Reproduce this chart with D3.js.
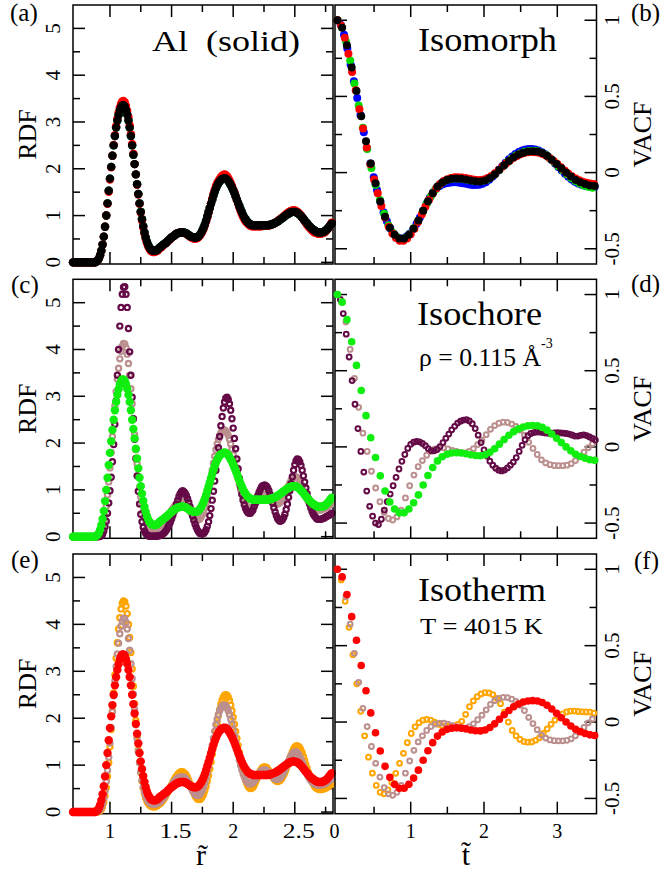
<!DOCTYPE html>
<html>
<head>
<meta charset="utf-8">
<script src="https://cdn.jsdelivr.net/npm/d3@7"></script>
<style>
  body { margin: 0; background: #fff; }
</style>
</head>
<body>
<svg width="660" height="871" font-family="Liberation Serif"></svg>
<script>
// RDF values on a grid r = 0.70 .. 2.80, step 0.01 (211 points)
var rdfRef = [
  0,0,0,0,0,0,0,0,0,0,
  0,0,0,0,0,0,0,0,0,0.02,
  0.04,0.08,0.15,0.25,0.38,0.55,0.76,1.00,1.26,1.53,
  1.79,2.04,2.28,2.50,2.70,2.88,3.03,3.15,3.25,3.32,
  3.36,3.36,3.33,3.26,3.16,3.03,2.88,2.70,2.50,2.30,
  2.10,1.88,1.67,1.46,1.26,1.08,0.92,0.77,0.64,0.53,
  0.44,0.37,0.32,0.28,0.26,0.25,0.25,0.25,0.26,0.28,
  0.31,0.33,0.35,0.37,0.39,0.41,0.43,0.46,0.48,0.51,
  0.53,0.55,0.57,0.59,0.61,0.62,0.63,0.64,0.64,0.64,
  0.64,0.63,0.62,0.60,0.58,0.56,0.55,0.54,0.53,0.53,
  0.53,0.54,0.56,0.59,0.63,0.68,0.74,0.81,0.89,0.98,
  1.07,1.16,1.25,1.34,1.43,1.51,1.58,1.64,1.69,1.73,
  1.76,1.78,1.79,1.80,1.79,1.77,1.74,1.70,1.65,1.60,
  1.54,1.48,1.41,1.34,1.27,1.20,1.13,1.07,1.01,0.96,
  0.92,0.88,0.85,0.83,0.81,0.80,0.79,0.79,0.79,0.79,
  0.79,0.79,0.79,0.79,0.79,0.79,0.79,0.79,0.79,0.80,
  0.80,0.81,0.82,0.83,0.84,0.86,0.87,0.89,0.91,0.93,
  0.95,0.97,0.99,1.01,1.03,1.04,1.06,1.07,1.08,1.08,
  1.08,1.07,1.06,1.04,1.02,0.99,0.96,0.93,0.89,0.86,
  0.83,0.80,0.77,0.74,0.72,0.70,0.68,0.66,0.65,0.64,
  0.64,0.64,0.64,0.65,0.66,0.68,0.70,0.73,0.76,0.80,
  0.83
];
var rdfIsoRed = [
  0,0,0,0,0,0,0,0,0,0,
  0,0,0,0,0,0,0,0,0,0.02,
  0.04,0.08,0.15,0.25,0.38,0.55,0.76,1.00,1.25,1.51,
  1.77,2.03,2.28,2.51,2.72,2.91,3.07,3.20,3.31,3.39,
  3.44,3.45,3.42,3.35,3.24,3.10,2.93,2.74,2.53,2.32,
  2.10,1.88,1.66,1.45,1.25,1.06,0.89,0.74,0.61,0.50,
  0.41,0.34,0.29,0.25,0.23,0.22,0.22,0.23,0.24,0.26,
  0.29,0.31,0.33,0.36,0.38,0.40,0.43,0.45,0.48,0.50,
  0.53,0.55,0.57,0.59,0.61,0.62,0.63,0.64,0.64,0.64,
  0.63,0.62,0.61,0.59,0.57,0.55,0.53,0.52,0.51,0.51,
  0.51,0.52,0.54,0.57,0.61,0.66,0.72,0.79,0.87,0.96,
  1.06,1.16,1.26,1.36,1.46,1.55,1.63,1.69,1.74,1.78,
  1.82,1.85,1.87,1.88,1.87,1.84,1.80,1.75,1.69,1.63,
  1.56,1.49,1.41,1.33,1.25,1.17,1.10,1.03,0.97,0.92,
  0.88,0.85,0.82,0.80,0.78,0.77,0.77,0.77,0.77,0.77,
  0.77,0.77,0.77,0.77,0.78,0.78,0.78,0.78,0.78,0.79,
  0.80,0.81,0.82,0.83,0.84,0.86,0.88,0.90,0.92,0.94,
  0.96,0.98,1.01,1.03,1.05,1.07,1.09,1.10,1.11,1.11,
  1.11,1.10,1.08,1.06,1.03,1.00,0.96,0.92,0.88,0.84,
  0.80,0.77,0.74,0.71,0.68,0.66,0.64,0.63,0.62,0.61,
  0.61,0.61,0.62,0.63,0.64,0.66,0.69,0.72,0.76,0.80,
  0.85
];
// blue and green isomorph RDFs cannot be told apart from the black one
var rdfIsoBlue = rdfRef, rdfIsoGreen = rdfRef;

var rdfMaroon = [
  0,0,0,0,0,0,0,0,0,0,
  0,0,0,0,0,0,0,0,0,0,
  0,0,0.01,0.02,0.05,0.12,0.21,0.33,0.50,0.72,
  0.98,1.27,1.60,1.97,2.40,2.90,3.45,4.00,4.50,4.90,
  5.18,5.33,5.34,5.18,4.90,4.45,3.95,3.45,2.98,2.52,
  2.08,1.67,1.30,0.97,0.70,0.48,0.32,0.20,0.12,0.07,
  0.04,0.02,0.01,0.01,0.01,0.01,0.01,0.01,0.01,0.02,
  0.02,0.03,0.04,0.06,0.08,0.11,0.15,0.20,0.25,0.31,
  0.38,0.45,0.53,0.61,0.70,0.78,0.86,0.92,0.96,0.98,
  0.96,0.93,0.88,0.81,0.73,0.64,0.54,0.44,0.35,0.27,
  0.20,0.14,0.10,0.07,0.06,0.06,0.07,0.10,0.15,0.22,
  0.32,0.45,0.60,0.78,0.97,1.19,1.42,1.66,1.90,2.14,
  2.37,2.57,2.75,2.88,2.96,2.98,2.93,2.84,2.70,2.52,
  2.32,2.10,1.88,1.66,1.45,1.25,1.07,0.91,0.78,0.68,
  0.60,0.55,0.51,0.50,0.50,0.53,0.57,0.64,0.72,0.80,
  0.88,0.95,1.01,1.06,1.09,1.10,1.10,1.08,1.04,0.98,
  0.90,0.81,0.72,0.62,0.53,0.45,0.39,0.35,0.33,0.34,
  0.36,0.41,0.48,0.58,0.70,0.84,0.98,1.13,1.28,1.42,
  1.54,1.62,1.66,1.65,1.60,1.52,1.42,1.30,1.17,1.04,
  0.92,0.81,0.70,0.61,0.54,0.48,0.44,0.41,0.38,0.37,
  0.37,0.37,0.38,0.39,0.40,0.42,0.43,0.45,0.46,0.48,
  0.50
];
var rdfBrown = [
  0,0,0,0,0,0,0,0,0,0,
  0,0,0,0,0,0,0,0,0,0,
  0.01,0.03,0.06,0.11,0.19,0.30,0.45,0.65,0.89,1.17,
  1.47,1.80,2.14,2.48,2.80,3.10,3.37,3.60,3.80,3.96,
  4.07,4.13,4.12,4.04,3.90,3.70,3.45,3.16,2.84,2.51,
  2.18,1.86,1.56,1.29,1.05,0.85,0.68,0.54,0.43,0.34,
  0.28,0.23,0.20,0.18,0.17,0.16,0.16,0.17,0.18,0.19,
  0.21,0.23,0.26,0.29,0.32,0.36,0.40,0.44,0.48,0.52,
  0.56,0.60,0.64,0.67,0.70,0.72,0.74,0.75,0.75,0.75,
  0.74,0.72,0.69,0.65,0.61,0.56,0.51,0.46,0.42,0.38,
  0.36,0.35,0.36,0.38,0.42,0.47,0.54,0.62,0.72,0.84,
  0.97,1.11,1.26,1.42,1.57,1.72,1.86,1.98,2.08,2.16,
  2.22,2.26,2.28,2.28,2.26,2.22,2.16,2.08,1.98,1.87,
  1.75,1.62,1.49,1.36,1.23,1.11,1.00,0.90,0.82,0.75,
  0.69,0.65,0.62,0.60,0.60,0.61,0.63,0.66,0.70,0.74,
  0.78,0.82,0.85,0.88,0.89,0.90,0.90,0.89,0.87,0.85,
  0.82,0.79,0.76,0.73,0.71,0.70,0.70,0.71,0.73,0.76,
  0.80,0.85,0.91,0.97,1.03,1.09,1.15,1.20,1.24,1.27,
  1.28,1.28,1.26,1.23,1.18,1.12,1.06,0.99,0.92,0.86,
  0.80,0.75,0.71,0.67,0.64,0.62,0.60,0.59,0.58,0.57,
  0.57,0.57,0.58,0.59,0.60,0.61,0.63,0.65,0.67,0.69,
  0.71
];
var rdfOrange = [
  0,0,0,0,0,0,0,0,0,0,
  0,0,0,0,0,0,0,0,0,0,
  0,0.01,0.03,0.06,0.12,0.21,0.34,0.52,0.76,1.05,
  1.39,1.76,2.15,2.54,2.92,3.28,3.61,3.90,4.14,4.33,
  4.45,4.50,4.48,4.39,4.23,4.00,3.72,3.40,3.05,2.68,
  2.31,1.95,1.62,1.32,1.06,0.84,0.66,0.51,0.39,0.30,
  0.23,0.18,0.15,0.13,0.12,0.11,0.11,0.12,0.13,0.15,
  0.17,0.19,0.22,0.25,0.29,0.33,0.38,0.43,0.48,0.53,
  0.58,0.63,0.68,0.73,0.77,0.80,0.83,0.85,0.86,0.86,
  0.84,0.82,0.78,0.73,0.67,0.60,0.54,0.47,0.41,0.35,
  0.31,0.28,0.27,0.27,0.29,0.33,0.38,0.46,0.55,0.66,
  0.78,0.92,1.07,1.23,1.40,1.57,1.74,1.90,2.05,2.18,
  2.30,2.39,2.45,2.49,2.50,2.49,2.45,2.38,2.28,2.16,
  2.02,1.87,1.72,1.57,1.42,1.27,1.13,1.00,0.88,0.77,
  0.68,0.61,0.55,0.52,0.50,0.51,0.53,0.57,0.63,0.69,
  0.76,0.82,0.88,0.92,0.95,0.96,0.96,0.95,0.92,0.88,
  0.84,0.79,0.75,0.71,0.68,0.66,0.65,0.66,0.67,0.70,
  0.74,0.79,0.85,0.92,0.99,1.07,1.14,1.21,1.28,1.34,
  1.38,1.41,1.41,1.40,1.37,1.32,1.26,1.18,1.10,1.01,
  0.93,0.85,0.78,0.71,0.65,0.60,0.55,0.52,0.50,0.49,
  0.48,0.48,0.48,0.49,0.50,0.51,0.53,0.54,0.56,0.58,
  0.60
];

// VACF values, each series sampled from t = 0 with its own step
var dtRef = 0.065;
var vacfRef = [
  1.000,0.950,0.835,0.690,0.535,0.370,0.205,0.060,-0.070,-0.190,
  -0.290,-0.362,-0.408,-0.433,-0.433,-0.408,-0.367,-0.315,-0.250,-0.188,
  -0.135,-0.092,-0.065,-0.048,-0.040,-0.038,-0.040,-0.045,-0.052,-0.057,
  -0.058,-0.052,-0.036,-0.012,0.018,0.048,0.076,0.100,0.118,0.131,
  0.138,0.140,0.138,0.128,0.110,0.085,0.057,0.028,0.000,-0.026,
  -0.048,-0.063,-0.075,-0.084,-0.088
];
var dtIsoRed = 0.05;
var vacfIsoRed = [
  1.000,0.965,0.885,0.780,0.660,0.540,0.415,0.290,0.165,0.055,
  -0.045,-0.135,-0.220,-0.295,-0.355,-0.400,-0.430,-0.447,-0.448,-0.433,
  -0.405,-0.368,-0.325,-0.275,-0.225,-0.178,-0.137,-0.102,-0.075,-0.055,
  -0.043,-0.035,-0.031,-0.030,-0.032,-0.036,-0.041,-0.046,-0.049,-0.049,
  -0.045,-0.036,-0.022,-0.004,0.017,0.038,0.059,0.078,0.095,0.109,
  0.120,0.128,0.133,0.135,0.134,0.130,0.122,0.110,0.094,0.076,
  0.056,0.035,0.014,-0.006,-0.024,-0.039,-0.051,-0.060,-0.067,-0.072,
  -0.075
];
var dtIsoGreen = 0.058;
var vacfIsoGreen = [
  1.000,0.955,0.860,0.735,0.585,0.440,0.295,0.155,0.030,-0.080,
  -0.180,-0.270,-0.345,-0.395,-0.425,-0.437,-0.430,-0.405,-0.365,-0.318,
  -0.262,-0.205,-0.155,-0.112,-0.080,-0.058,-0.046,-0.040,-0.038,-0.039,
  -0.043,-0.049,-0.054,-0.057,-0.056,-0.049,-0.033,-0.010,0.016,0.043,
  0.069,0.092,0.112,0.126,0.136,0.142,0.144,0.141,0.131,0.115,
  0.094,0.069,0.042,0.015,-0.011,-0.035,-0.055,-0.071,-0.084,-0.093,
  -0.099
];
var dtIsoBlue = 0.045;
var vacfIsoBlue = [
  1.000,0.970,0.905,0.815,0.710,0.600,0.490,0.378,0.265,0.158,
  0.060,-0.030,-0.115,-0.190,-0.260,-0.320,-0.365,-0.400,-0.422,-0.432,
  -0.432,-0.420,-0.400,-0.370,-0.335,-0.295,-0.250,-0.205,-0.165,-0.130,
  -0.105,-0.088,-0.077,-0.070,-0.066,-0.064,-0.064,-0.066,-0.070,-0.074,
  -0.078,-0.081,-0.082,-0.080,-0.074,-0.063,-0.047,-0.027,-0.005,0.018,
  0.042,0.065,0.087,0.106,0.122,0.135,0.145,0.152,0.155,0.155,
  0.152,0.145,0.134,0.120,0.102,0.082,0.060,0.037,0.014,-0.008,
  -0.028,-0.046,-0.060,-0.072,-0.080,-0.086,-0.090,-0.092,-0.093
];
var dtMaroon = 0.04;
var vacfMaroon = [
  1.000,0.968,0.875,0.740,0.590,0.435,0.280,0.120,-0.030,-0.165,
  -0.290,-0.390,-0.455,-0.500,-0.510,-0.475,-0.415,-0.360,-0.310,-0.255,
  -0.200,-0.145,-0.095,-0.050,-0.010,0.017,0.031,0.036,0.033,0.023,
  0.008,-0.012,-0.024,-0.026,-0.017,0.002,0.028,0.056,0.084,0.112,
  0.135,0.156,0.169,0.176,0.178,0.170,0.152,0.120,0.077,0.028,
  -0.020,-0.060,-0.094,-0.120,-0.140,-0.153,-0.158,-0.152,-0.138,-0.120,
  -0.100,-0.070,-0.030,0.010,0.047,0.073,0.088,0.094,0.097,0.097,
  0.094,0.091,0.089,0.090,0.092,0.093,0.092,0.090,0.088,0.084,
  0.078,0.071,0.071,0.076,0.079,0.074,0.065,0.055,0.045
];
var dtBrown = 0.058;
var vacfBrown = [
  1.000,0.950,0.820,0.640,0.450,0.260,0.090,-0.030,-0.160,-0.270,
  -0.360,-0.430,-0.470,-0.480,-0.460,-0.415,-0.335,-0.255,-0.185,-0.130,
  -0.090,-0.055,-0.030,-0.013,-0.007,-0.007,-0.014,-0.023,-0.030,-0.036,
  -0.040,-0.030,-0.012,0.015,0.045,0.080,0.115,0.140,0.155,0.162,
  0.160,0.150,0.135,0.110,0.075,0.030,-0.010,-0.050,-0.085,-0.105,
  -0.117,-0.122,-0.123,-0.123,-0.120,-0.110,-0.090,-0.063,-0.035,-0.005,
  0.020
];
var dtOrange = 0.053;
var vacfOrange = [
  1.000,0.930,0.790,0.620,0.440,0.250,0.070,-0.090,-0.230,-0.335,
  -0.415,-0.460,-0.470,-0.445,-0.395,-0.336,-0.270,-0.205,-0.135,-0.075,
  -0.031,-0.004,0.012,0.017,0.013,0.000,-0.015,-0.024,-0.027,-0.027,
  -0.025,-0.016,0.005,0.050,0.100,0.138,0.166,0.184,0.192,0.190,
  0.180,0.155,0.120,0.065,0.000,-0.055,-0.090,-0.114,-0.128,-0.132,
  -0.130,-0.120,-0.103,-0.075,-0.045,-0.015,0.013,0.035,0.053,0.066,
  0.072,0.072,0.069,0.067,0.066,0.065,0.058
];

var rdfYTicks = [0, 1, 2, 3, 4, 5];
var rdfYMinor = [0.5, 1.5, 2.5, 3.5, 4.5];
var rdfXTicks = [1, 1.5, 2, 2.5];
var rdfXMinor = [1.25, 1.75, 2.25, 2.75];
var vacfYTicks = [-0.5, 0, 0.5, 1];
var vacfYMinor = [-0.25, 0.25, 0.75];
var vacfXTicks = [1, 2, 3];
var vacfXMinor = [0.5, 1.5, 2.5];
var vacfXLabels = [0, 1, 2, 3];

var col = { maroon: "#640a46", rosy: "#bc8f8f", lime: "#10ee10", orange: "#ffa500",
            red: "#ff0000", blue: "#0000ff", green: "#00dd00", black: "#000000" };

var svg = d3.select("svg");
var rows = [[5, 264], [279.3, 538.3], [554, 813.7]];
var MAJ = 12, MIN = 7;

var rGrid = d3.range(rdfRef.length).map(function (i) { return 0.70 + i * 0.01; });
function tGrid(vals, dt) { return vals.map(function (v, i) { return i * dt; }); }

function makePanel(kind, row) {
  var p = { kind: kind };
  if (kind == "rdf") {
    p.x = d3.scaleLinear().domain([0.70, 2.81]).range([73, 333]);
    p.y = d3.scaleLinear().domain([-0.035, 5.5]).range([rows[row][1], rows[row][0]]);
    p.xt = rdfXTicks; p.xm = rdfXMinor; p.yt = rdfYTicks; p.ym = rdfYMinor;
  } else {
    p.x = d3.scaleLinear().domain([-0.033, 3.535]).range([335, 596.5]);
    p.y = d3.scaleLinear().domain([-0.6, 1.1]).range([rows[row][1], rows[row][0]]);
    p.xt = vacfXTicks; p.xm = vacfXMinor; p.yt = vacfYTicks; p.ym = vacfYMinor;
  }
  var g = svg.append("g");
  p.g = g;
  var xa = p.x.range()[0], xb = p.x.range()[1], yb = p.y.range()[0], ya = p.y.range()[1];
  g.append("rect").attr("x", xa).attr("y", ya).attr("width", xb - xa).attr("height", yb - ya)
    .attr("fill", "none").attr("stroke", "#000").attr("stroke-width", 1.5);
  var seg = [];
  function xs(v, L) { seg.push([p.x(v), ya, p.x(v), ya + L], [p.x(v), yb, p.x(v), yb - L]); }
  function ys(v, L) { seg.push([xa, p.y(v), xa + L, p.y(v)], [xb, p.y(v), xb - L, p.y(v)]); }
  p.xt.forEach(function (v) { xs(v, MAJ); });
  p.xm.forEach(function (v) { xs(v, MIN); });
  p.yt.forEach(function (v) { ys(v, MAJ); });
  p.ym.forEach(function (v) { ys(v, MIN); });
  g.selectAll("line").data(seg).join("line")
    .attr("x1", function (d) { return d[0]; }).attr("y1", function (d) { return d[1]; })
    .attr("x2", function (d) { return d[2]; }).attr("y2", function (d) { return d[3]; })
    .attr("stroke", "#000").attr("stroke-width", 1.5);
  return p;
}

function series(p, grid, vals, color, open, r, sw) {
  var pts = vals.map(function (v, i) { return [grid[i], v]; });
  var c = p.g.append("g").selectAll("circle").data(pts).join("circle")
    .attr("cx", function (d) { return p.x(d[0]); })
    .attr("cy", function (d) { return p.y(d[1]); })
    .attr("r", r);
  if (open) c.attr("fill", "none").attr("stroke", color).attr("stroke-width", sw);
  else c.attr("fill", color);
}

// (a) isomorph RDF
var pa = makePanel("rdf", 0);
series(pa, rGrid, rdfIsoBlue, col.blue, false, 4.2);
series(pa, rGrid, rdfIsoGreen, col.green, false, 4.2);
series(pa, rGrid, rdfIsoRed, col.red, false, 4.2);
series(pa, rGrid, rdfRef, col.black, false, 4.2);
// (b) isomorph VACF
var pb = makePanel("vacf", 0);
series(pb, tGrid(vacfIsoBlue, dtIsoBlue), vacfIsoBlue, col.blue, false, 4);
series(pb, tGrid(vacfIsoGreen, dtIsoGreen), vacfIsoGreen, col.green, false, 4);
series(pb, tGrid(vacfIsoRed, dtIsoRed), vacfIsoRed, col.red, false, 4);
series(pb, tGrid(vacfRef, dtRef), vacfRef, col.black, false, 4);
// (c) isochore RDF
var pc = makePanel("rdf", 1);
series(pc, rGrid, rdfBrown, col.rosy, true, 2.6, 2.2);
series(pc, rGrid, rdfMaroon, col.maroon, true, 2.6, 2.2);
series(pc, rGrid, rdfRef, col.lime, false, 4.2);
// (d) isochore VACF
var pd = makePanel("vacf", 1);
series(pd, tGrid(vacfBrown, dtBrown), vacfBrown, col.rosy, true, 2.4, 2);
series(pd, tGrid(vacfMaroon, dtMaroon), vacfMaroon, col.maroon, true, 2.4, 2);
series(pd, tGrid(vacfRef, dtRef), vacfRef, col.lime, false, 3.8);
// (e) isotherm RDF
var pe = makePanel("rdf", 2);
series(pe, rGrid, rdfOrange, col.orange, true, 2.6, 2.2);
series(pe, rGrid, rdfBrown, col.rosy, true, 2.6, 2.2);
series(pe, rGrid, rdfRef, col.red, false, 4.2);
// (f) isotherm VACF
var pf = makePanel("vacf", 2);
series(pf, tGrid(vacfOrange, dtOrange), vacfOrange, col.orange, true, 2.4, 2);
series(pf, tGrid(vacfBrown, dtBrown), vacfBrown, col.rosy, true, 2.4, 2);
series(pf, tGrid(vacfRef, dtRef), vacfRef, col.red, false, 3.8);

// tick labels
function vlabel(x, y, s, size) {
  svg.append("text").attr("transform", "translate(" + x + "," + y + ") rotate(-90)")
    .attr("text-anchor", "middle").attr("dy", "0.35em").attr("font-size", size).text(s);
}
[pa, pc, pe].forEach(function (p) {
  rdfYTicks.forEach(function (v) { vlabel(53, p.y(v), String(v), 21); });
  vlabel(27, (p.y.range()[0] + p.y.range()[1]) / 2, "RDF", 26);
});
[pb, pd, pf].forEach(function (p) {
  vacfYTicks.forEach(function (v) { vlabel(612, p.y(v), String(v), 21); });
  vlabel(642, (p.y.range()[0] + p.y.range()[1]) / 2, "VACF", 26);
});
rdfXTicks.forEach(function (v) {
  var t = svg.append("text").attr("x", pe.x(v) + (v % 1 ? 4 : 0)).attr("y", 838).attr("text-anchor", "middle")
    .attr("font-size", 20).text(String(v));
  if (String(v).length > 1) t.attr("textLength", 32).attr("lengthAdjust", "spacingAndGlyphs");
});
vacfXLabels.forEach(function (v) {
  svg.append("text").attr("x", pf.x(v) - (v == 0 ? 3 : 0)).attr("y", 838).attr("text-anchor", "middle")
    .attr("font-size", 20).text(String(v));
});
svg.append("text").attr("x", 201).attr("y", 865).attr("text-anchor", "middle").attr("font-size", 30).text("r\u0303");
svg.append("text").attr("x", 466).attr("y", 865).attr("text-anchor", "middle").attr("font-size", 30).text("t\u0303");

// panel letters
[["(a)", 10, 21], ["(b)", 631, 21], ["(c)", 11, 293], ["(d)", 631, 292], ["(e)", 11, 568], ["(f)", 634, 569]]
  .forEach(function (d) {
    svg.append("text").attr("x", d[1]).attr("y", d[2]).attr("font-size", 25).text(d[0]);
  });

// titles
function title(s, x, y, size, len) {
  svg.append("text").attr("x", x).attr("y", y).attr("font-size", size)
    .attr("textLength", len).attr("lengthAdjust", "spacingAndGlyphs").text(s);
}
title("Al\u00a0\u00a0(solid)", 152, 51, 30, 148);
title("Isomorph", 418, 51, 34, 139);
title("Isochore", 417, 325, 34, 125);
title("\u03c1 = 0.115 \u00c5", 419, 366, 25, 122);
svg.append("text").attr("x", 541).attr("y", 348).attr("font-size", 14).text("-3");
title("Isotherm", 418, 601, 34, 128);
title("T = 4015 K", 420, 634, 24, 123);
</script>
</body>
</html>
